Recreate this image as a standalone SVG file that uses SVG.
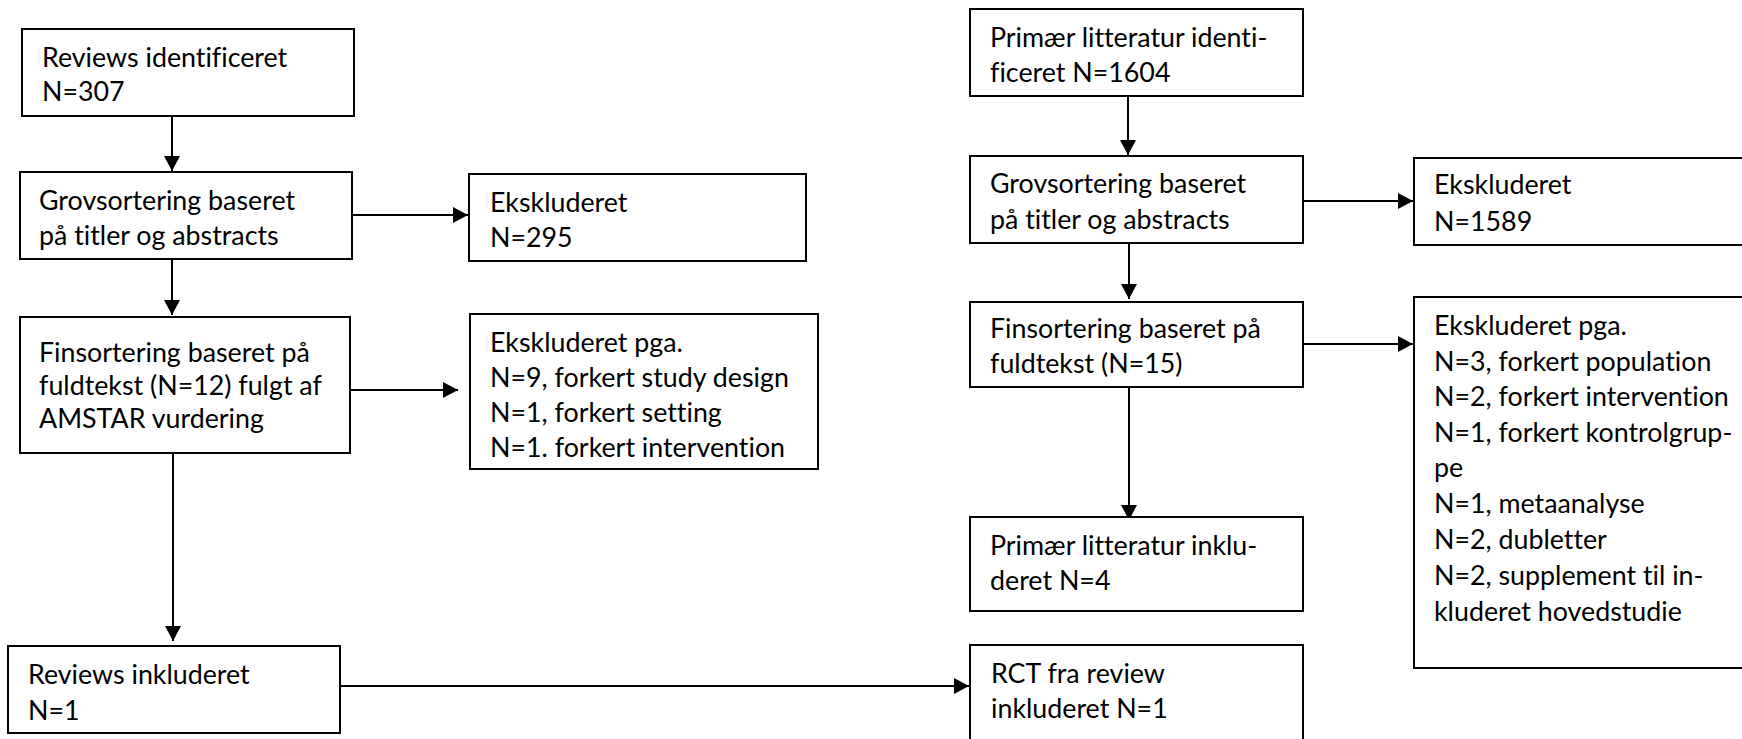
<svg xmlns="http://www.w3.org/2000/svg" width="1742" height="739" viewBox="0 0 1742 739">
<defs>
<style>
.box{fill:#fff;stroke:#000;stroke-width:2}
.t{font-family:Lato,"Liberation Sans",sans-serif;font-size:26.8px;fill:#000;font-variant-ligatures:none;font-feature-settings:"liga" 0}
.c{stroke:#000;stroke-width:2;fill:none}
</style>
<marker id="ah" markerUnits="userSpaceOnUse" markerWidth="16" markerHeight="16" refX="15" refY="8" orient="auto">
<path d="M0,0 L15,8 L0,16 z" fill="#000"/>
</marker>
</defs>
<rect width="1742" height="739" fill="#fff"/>
<g id="connectors">
<line class="c" x1="172" y1="116" x2="172" y2="171" marker-end="url(#ah)"/>
<line class="c" x1="352" y1="215" x2="468" y2="215" marker-end="url(#ah)"/>
<line class="c" x1="172" y1="259" x2="172" y2="315" marker-end="url(#ah)"/>
<line class="c" x1="350" y1="390" x2="458" y2="390" marker-end="url(#ah)"/>
<line class="c" x1="173" y1="453" x2="173" y2="641" marker-end="url(#ah)"/>
<line class="c" x1="340" y1="686" x2="969" y2="686" marker-end="url(#ah)"/>
<line class="c" x1="1128" y1="96" x2="1128" y2="155" marker-end="url(#ah)"/>
<line class="c" x1="1303" y1="201" x2="1413" y2="201" marker-end="url(#ah)"/>
<line class="c" x1="1129" y1="243" x2="1129" y2="299" marker-end="url(#ah)"/>
<line class="c" x1="1303" y1="344" x2="1413" y2="344" marker-end="url(#ah)"/>
<line class="c" x1="1129" y1="387" x2="1129" y2="520" marker-end="url(#ah)"/>
</g>
<g id="n1"><rect class="box" x="22" y="29" width="332" height="87"/>
<text class="t" x="42" y="67">Reviews identificeret</text><text class="t" x="42" y="101">N=307</text></g>
<g id="n2"><rect class="box" x="20" y="172" width="332" height="87"/>
<text class="t" x="39" y="210">Grovsortering baseret</text><text class="t" x="39" y="245">på titler og abstracts</text></g>
<g id="n3"><rect class="box" x="469" y="174" width="337" height="87"/>
<text class="t" x="490" y="212">Ekskluderet</text><text class="t" x="490" y="247">N=295</text></g>
<g id="n4"><rect class="box" x="20" y="317" width="330" height="136"/>
<text class="t" x="39" y="362">Finsortering baseret på</text><text class="t" x="39" y="395">fuldtekst (N=12) fulgt af</text><text class="t" x="39" y="428">AMSTAR vurdering</text></g>
<g id="n5"><rect class="box" x="470" y="314" width="348" height="155"/>
<text class="t" x="490" y="352">Ekskluderet pga.</text><text class="t" x="490" y="387">N=9, forkert study design</text><text class="t" x="490" y="422">N=1, forkert setting</text><text class="t" x="490" y="457">N=1. forkert intervention</text></g>
<g id="n6"><rect class="box" x="8" y="646" width="332" height="87"/>
<text class="t" x="28" y="684">Reviews inkluderet</text><text class="t" x="28" y="720">N=1</text></g>
<g id="n7"><rect class="box" x="970" y="645" width="333" height="110"/>
<text class="t" x="991" y="683">RCT fra review</text><text class="t" x="991" y="718">inkluderet N=1</text></g>
<g id="n8"><rect class="box" x="970" y="9" width="333" height="87"/>
<text class="t" x="990" y="47">Primær litteratur identi-</text><text class="t" x="990" y="82">ficeret N=1604</text></g>
<g id="n9"><rect class="box" x="970" y="156" width="333" height="87"/>
<text class="t" x="990" y="193">Grovsortering baseret</text><text class="t" x="990" y="229">på titler og abstracts</text></g>
<g id="n10"><rect class="box" x="1414" y="158" width="340" height="87"/>
<text class="t" x="1434" y="194">Ekskluderet</text><text class="t" x="1434" y="231">N=1589</text></g>
<g id="n11"><rect class="box" x="970" y="302" width="333" height="85"/>
<text class="t" x="990" y="338">Finsortering baseret på</text><text class="t" x="990" y="373">fuldtekst (N=15)</text></g>
<g id="n12"><rect class="box" x="1414" y="297" width="340" height="371"/>
<text class="t" x="1434" y="335">Ekskluderet pga.</text><text class="t" x="1434" y="371">N=3, forkert population</text><text class="t" x="1434" y="406">N=2, forkert intervention</text><text class="t" x="1434" y="442">N=1, forkert kontrolgrup-</text><text class="t" x="1434" y="477">pe</text><text class="t" x="1434" y="513">N=1, metaanalyse</text><text class="t" x="1434" y="549">N=2, dubletter</text><text class="t" x="1434" y="585">N=2, supplement til in-</text><text class="t" x="1434" y="621">kluderet hovedstudie</text></g>
<g id="n13"><rect class="box" x="970" y="517" width="333" height="94"/>
<text class="t" x="990" y="555">Primær litteratur inklu-</text><text class="t" x="990" y="590">deret N=4</text></g>
</svg>
